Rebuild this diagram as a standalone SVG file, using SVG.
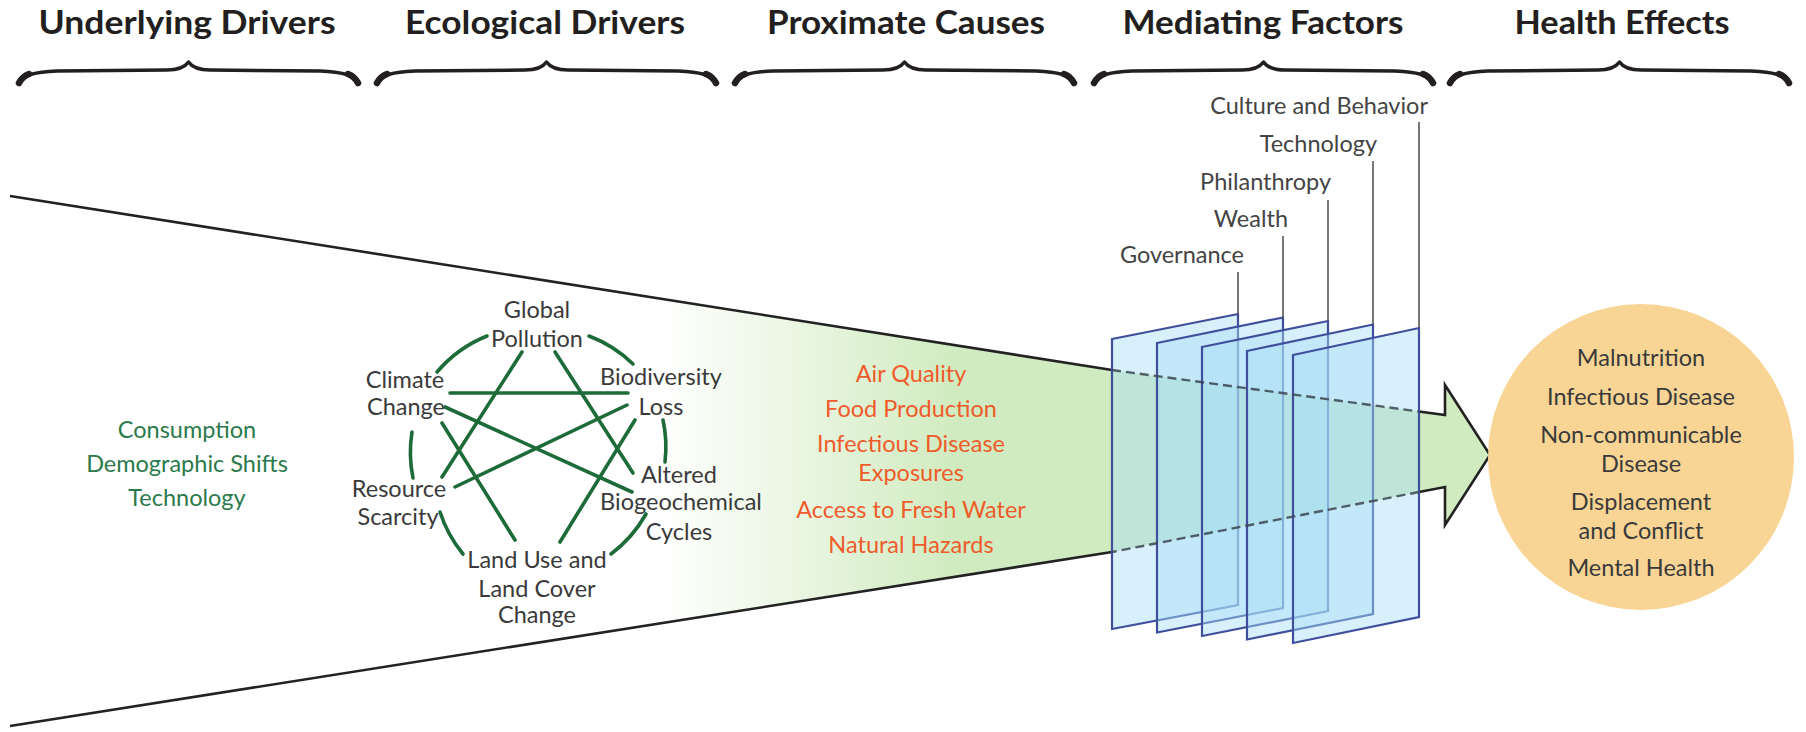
<svg xmlns="http://www.w3.org/2000/svg" width="1806" height="732" viewBox="0 0 1806 732">
<defs>
<style>
.hdr{font-family:Lato,'Liberation Sans',sans-serif;font-weight:bold;font-size:32px;fill:#231f20;text-anchor:middle}
.brace{fill:none;stroke:#231f20;stroke-width:3.5;stroke-linecap:round;stroke-linejoin:round}
.tip{fill:none;stroke:#231f20;stroke-width:6.5;stroke-linecap:round}
.t{font-family:Lato,'Liberation Sans',sans-serif;font-size:23.5px;text-anchor:middle}
.gray{fill:#3a3a3a}
.green{fill:#2b7a4b}
.orange{fill:#ef5b2b}
.lbl{font-family:Lato,'Liberation Sans',sans-serif;font-size:23.5px;fill:#444;text-anchor:end}
.ring{fill:none;stroke:#1e6b3a;stroke-width:3.6;stroke-linecap:round}
.edge{stroke:#1e6b3a;stroke-width:3.6;stroke-linecap:round}
.fun{stroke:#222;stroke-width:2.6;fill:none;stroke-linejoin:miter}
.dash{stroke:#3b4550;stroke-opacity:0.85;stroke-width:2.4;stroke-dasharray:9 5;fill:none}
.panel{fill:#a9ddf6;fill-opacity:0.45;stroke:#3f4f9c;stroke-width:2.2;stroke-linejoin:miter}
.leader{stroke:#555;stroke-width:1.6}
</style>
<linearGradient id="fg" gradientUnits="userSpaceOnUse" x1="660" y1="0" x2="960" y2="0">
<stop offset="0" stop-color="#ffffff"/>
<stop offset="1" stop-color="#d0ebbf"/>
</linearGradient>
<g id="brace">
<path class="brace" d="M3,82 C7,75 17,72 40,71 L150,70 C162,70 168,67 171.5,62 C175,67 181,70 193,70 L303,71 C326,72 336,75 340,82"/>
<path class="tip" d="M2,83 C4,79 7,76 12,74"/>
<path class="tip" d="M341,83 C339,79 336,76 331,74"/>
</g>
</defs>
<rect width="1806" height="732" fill="#ffffff"/>

<g id="headers">
<text class="hdr" x="187" y="34" textLength="297" lengthAdjust="spacingAndGlyphs">Underlying Drivers</text>
<text class="hdr" x="545" y="34" textLength="280" lengthAdjust="spacingAndGlyphs">Ecological Drivers</text>
<text class="hdr" x="906" y="34" textLength="278" lengthAdjust="spacingAndGlyphs">Proximate Causes</text>
<text class="hdr" x="1263" y="34" textLength="281" lengthAdjust="spacingAndGlyphs">Mediating Factors</text>
<text class="hdr" x="1622" y="34" textLength="215" lengthAdjust="spacingAndGlyphs">Health Effects</text>
</g>
<g id="braces">
<use href="#brace" x="17" y="0"/>
<use href="#brace" x="375" y="0"/>
<use href="#brace" x="733" y="0"/>
<use href="#brace" x="1092" y="0"/>
<use href="#brace" x="1448" y="0"/>
</g>

<g id="connectors">
<g id="funnel-arrow">
<path d="M10,196 L1112,370 L1445,415 L1445,385 L1490,455 L1445,525 L1445,487 L1112,552 L10,726 Z" fill="url(#fg)"/>
<path class="fun" d="M10,196 L1112,370"/>
<path class="fun" d="M1419,411.5 L1445,415 L1445,385 L1490,455 L1445,525 L1445,487 L1419,492"/>
<path class="fun" d="M1112,552 L10,726"/>
</g>
<g id="ring">
<path class="ring" d="M437,372 A128,128 0 0,1 487,336"/>
<path class="ring" d="M589,336 A128,128 0 0,1 633,364"/>
<path class="ring" d="M663,420 A128,128 0 0,1 665,462"/>
<path class="ring" d="M646,514 A128,128 0 0,1 611,554"/>
<path class="ring" d="M463,554 A128,128 0 0,1 440,512"/>
<path class="ring" d="M413,478 A128,128 0 0,1 412,432"/>
</g>
<g id="chords">
<line class="edge" x1="450" y1="393" x2="628" y2="393"/>
<line class="edge" x1="522" y1="352" x2="442" y2="477"/>
<line class="edge" x1="555" y1="352" x2="633" y2="473"/>
<line class="edge" x1="445" y1="407" x2="632" y2="492"/>
<line class="edge" x1="442" y1="423" x2="515" y2="540"/>
<line class="edge" x1="627" y1="405" x2="455" y2="487"/>
<line class="edge" x1="635" y1="420" x2="560" y2="542"/>
</g>
</g>

<g id="underlying-drivers">
<text class="t green" x="187" y="438">Consumption</text>
<text class="t green" x="187" y="472">Demographic Shifts</text>
<text class="t green" x="187" y="506">Technology</text>
</g>

<g id="node-global-pollution"><text class="t gray" x="537" y="318">Global</text><text class="t gray" x="537" y="347">Pollution</text></g>
<g id="node-climate-change"><text class="t gray" x="405" y="388">Climate</text><text class="t gray" x="406" y="415">Change</text></g>
<g id="node-biodiversity-loss"><text class="t gray" x="661" y="385">Biodiversity</text><text class="t gray" x="661" y="415">Loss</text></g>
<g id="node-resource-scarcity"><text class="t gray" x="399" y="497">Resource</text><text class="t gray" x="398" y="525">Scarcity</text></g>
<g id="node-altered-cycles"><text class="t gray" x="679" y="483">Altered</text><text class="t gray" x="681" y="510">Biogeochemical</text><text class="t gray" x="679" y="540">Cycles</text></g>
<g id="node-land-use"><text class="t gray" x="537" y="568">Land Use and</text><text class="t gray" x="537" y="597">Land Cover</text><text class="t gray" x="537" y="623">Change</text></g>

<g id="proximate-causes">
<text class="t orange" x="911" y="382">Air Quality</text>
<text class="t orange" x="911" y="417">Food Production</text>
<text class="t orange" x="911" y="452">Infectious Disease</text>
<text class="t orange" x="911" y="481">Exposures</text>
<text class="t orange" x="911" y="518">Access to Fresh Water</text>
<text class="t orange" x="911" y="553">Natural Hazards</text>
</g>

<g id="mediating-factors">
<polygon id="panel-governance" class="panel" points="1112,339 1238,314 1238,605 1112,629"/>
<polygon id="panel-wealth" class="panel" points="1157,343 1283,317.5 1283,608 1157,632.5"/>
<polygon id="panel-philanthropy" class="panel" points="1202,347 1328,321 1328,611 1202,636"/>
<polygon id="panel-technology" class="panel" points="1247,351 1373,324.5 1373,614 1247,639.5"/>
<polygon id="panel-culture" class="panel" points="1293,355 1419,328 1419,617 1293,643"/>
<line class="leader" x1="1238" y1="272" x2="1238" y2="314"/>
<line class="leader" x1="1283" y1="236" x2="1283" y2="317.5"/>
<line class="leader" x1="1328" y1="200" x2="1328" y2="321"/>
<line class="leader" x1="1373" y1="161" x2="1373" y2="324.5"/>
<line class="leader" x1="1419" y1="122" x2="1419" y2="328"/>
<text class="lbl" x="1244" y="263">Governance</text>
<text class="lbl" x="1288" y="227">Wealth</text>
<text class="lbl" x="1331" y="190">Philanthropy</text>
<text class="lbl" x="1377" y="152">Technology</text>
<text class="lbl" x="1428" y="114">Culture and Behavior</text>
</g>

<g id="funnel-dashed">
<path class="dash" d="M1112,370 L1419,411.5"/>
<path class="dash" d="M1419,492 L1112,552"/>
</g>

<g id="health-effects">
<circle cx="1641" cy="457" r="153" fill="#f8d595"/>
<text class="t gray" x="1641" y="366">Malnutrition</text>
<text class="t gray" x="1641" y="405">Infectious Disease</text>
<text class="t gray" x="1641" y="443">Non-communicable</text>
<text class="t gray" x="1641" y="472">Disease</text>
<text class="t gray" x="1641" y="510">Displacement</text>
<text class="t gray" x="1641" y="539">and Conflict</text>
<text class="t gray" x="1641" y="576">Mental Health</text>
</g>
</svg>
